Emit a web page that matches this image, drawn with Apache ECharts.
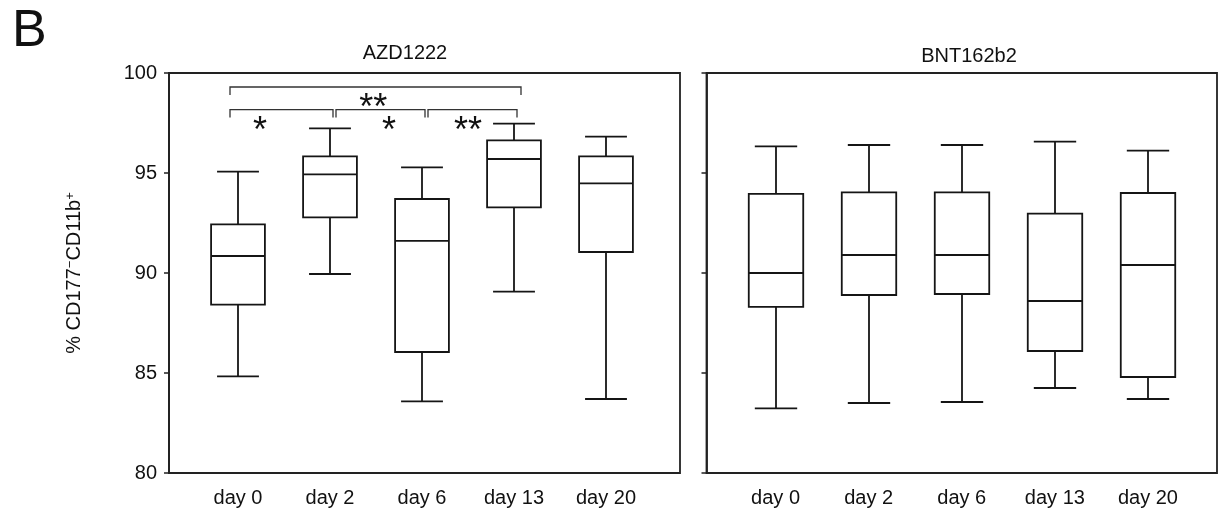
<!DOCTYPE html>
<html>
<head>
<meta charset="utf-8">
<script src="https://cdn.jsdelivr.net/npm/echarts@6/dist/echarts.min.js"></script>
<style>html,body{margin:0;padding:0;background:#fff}#c{width:1220px;height:518px}</style>
</head>
<body>
<div id="c"></div>
<script>
// ---- data ----
const categories = ['day 0', 'day 2', 'day 6', 'day 13', 'day 20'];
const yMin = 80, yMax = 100, yStep = 5;

// AZD1222 panel
const azdMin    = [84.83, 89.95, 83.58, 89.07, 83.70];
const azdQ1     = [88.42, 92.78, 86.05, 93.28, 91.05];
const azdMedian = [90.85, 94.93, 91.61, 95.70, 94.48];
const azdQ3     = [92.43, 95.83, 93.70, 96.63, 95.83];
const azdMax    = [95.07, 97.23, 95.28, 97.47, 96.82];

// BNT162b2 panel
const bntMin    = [83.23, 83.50, 83.55, 84.25, 83.70];
const bntQ1     = [88.31, 88.90, 88.95, 86.10, 84.80];
const bntMedian = [90.00, 90.90, 90.90, 88.60, 90.40];
const bntQ3     = [93.96, 94.03, 94.03, 92.97, 94.00];
const bntMax    = [96.33, 96.40, 96.40, 96.57, 96.12];

// significance brackets (AZD1222)
const sigFrom    = [0, 1, 2, 0];
const sigTo      = [1, 2, 3, 3];
const sigLevel   = [98.17, 98.17, 98.17, 99.30];
const sigText    = ['*', '*', '**', '**'];
const sigTextPos = [0.24, 1.64, 2.50, 1.47];

// ---- build ----
const INK = '#151515';
const LW = 1.8;

function boxData(mn, q1, md, q3, mx) {
  return categories.map((c, i) => [i, mn[i], q1[i], md[i], q3[i], mx[i]]);
}

function renderBox(params, api) {
  const x = api.value(0);
  const pMin = api.coord([x, api.value(1)]);
  const pQ1 = api.coord([x, api.value(2)]);
  const pMed = api.coord([x, api.value(3)]);
  const pQ3 = api.coord([x, api.value(4)]);
  const pMax = api.coord([x, api.value(5)]);
  const band = api.size([1, 0])[0];
  const bw = band * 0.585, cw = band * 0.455;
  const cx = Math.round(pMin[0]);
  const st = {stroke: INK, lineWidth: LW, fill: null};
  return {
    type: 'group',
    children: [
      {type: 'line', shape: {x1: cx, y1: pMax[1], x2: cx, y2: pQ3[1]}, style: st},
      {type: 'line', shape: {x1: cx, y1: pQ1[1], x2: cx, y2: pMin[1]}, style: st},
      {type: 'line', shape: {x1: cx - cw / 2, y1: pMax[1], x2: cx + cw / 2, y2: pMax[1]}, style: st},
      {type: 'line', shape: {x1: cx - cw / 2, y1: pMin[1], x2: cx + cw / 2, y2: pMin[1]}, style: st},
      {type: 'rect', shape: {x: cx - bw / 2, y: pQ3[1], width: bw, height: pQ1[1] - pQ3[1]}, style: {stroke: INK, lineWidth: LW, fill: '#fff'}},
      {type: 'line', shape: {x1: cx - bw / 2, y1: pMed[1], x2: cx + bw / 2, y2: pMed[1]}, style: st}
    ]
  };
}

function renderSig(params, api) {
  const k = params.dataIndex;
  const i = sigFrom[k], j = sigTo[k], lev = sigLevel[k], tp = sigTextPos[k];
  const top = k === 3;
  const a = api.coord([i, lev]);
  const b = api.coord([j, lev]);
  const o = api.coord([0, lev]);
  const band = api.size([1, 0])[0];
  const tx = o[0] + tp * band;
  const x1 = a[0] + (i === 0 ? -8 : 6);
  const x2 = b[0] + (top ? 7 : 3);
  const y = a[1];
  const st = {stroke: '#333', lineWidth: 1.3, fill: null};
  return {
    type: 'group',
    children: [
      {type: 'polyline', shape: {points: [[x1, y + 8], [x1, y], [x2, y], [x2, y + 8]]}, style: st},
      {type: 'text', x: tx, y: y + 22, style: {text: sigText[k], fontSize: 36, fontFamily: 'Liberation Sans', fill: '#111', align: 'center', verticalAlign: 'middle'}}
    ]
  };
}

const frameGrid = {show: true, borderColor: '#222', borderWidth: 1.8, backgroundColor: 'transparent', top: 73, height: 400};
const frameX = {type: 'value', show: false, min: 0, max: 1};
const catX = {
  type: 'category', data: categories,
  axisLine: {show: false}, axisTick: {show: false}, splitLine: {show: false},
  axisLabel: {fontSize: 20, color: '#111', fontFamily: 'Liberation Sans', margin: 15}
};
const frameY = {
  type: 'value', min: yMin, max: yMax, interval: yStep,
  axisLine: {show: true, lineStyle: {color: '#222', width: 1.8}},
  axisTick: {show: true, length: 5, lineStyle: {color: '#222', width: 1.5}},
  splitLine: {show: false}
};
const hiddenY = {type: 'value', min: yMin, max: yMax, show: false};

const option = {
  animation: false,
  backgroundColor: '#fff',
  grid: [
    Object.assign({left: 169, width: 511}, frameGrid),
    {left: 192, width: 460, top: 73, height: 400},
    Object.assign({left: 706.5, width: 510.5}, frameGrid),
    {left: 729, width: 465.5, top: 73, height: 400}
  ],
  xAxis: [
    Object.assign({gridIndex: 0}, frameX),
    Object.assign({gridIndex: 1}, catX),
    Object.assign({gridIndex: 2}, frameX),
    Object.assign({gridIndex: 3}, catX)
  ],
  yAxis: [
    Object.assign({
      gridIndex: 0,
      axisLabel: {fontSize: 20, color: '#111', fontFamily: 'Liberation Sans', margin: 12},
      name: '% CD177{sup|−}CD11b{sup|+}',
      nameLocation: 'middle', nameGap: 85,
      nameTextStyle: {
        fontSize: 20, color: '#111', fontFamily: 'Liberation Sans',
        rich: {sup: {fontSize: 13, fontFamily: 'Liberation Sans', color: '#111', verticalAlign: 'top', lineHeight: 13}}
      }
    }, frameY),
    Object.assign({gridIndex: 1}, hiddenY),
    Object.assign({gridIndex: 2, axisLabel: {show: false}}, frameY),
    Object.assign({gridIndex: 3}, hiddenY)
  ],
  graphic: [
    {type: 'text', x: 12, y: 32, style: {text: 'B', fontSize: 52, fontFamily: 'Liberation Sans', fill: '#111', align: 'left', verticalAlign: 'middle'}},
    {type: 'text', x: 405, y: 53, style: {text: 'AZD1222', fontSize: 20, fontFamily: 'Liberation Sans', fill: '#111', align: 'center', verticalAlign: 'middle'}},
    {type: 'text', x: 969, y: 56, style: {text: 'BNT162b2', fontSize: 20, fontFamily: 'Liberation Sans', fill: '#111', align: 'center', verticalAlign: 'middle'}}
  ],
  series: [
    {type: 'custom', name: 'AZD1222', xAxisIndex: 1, yAxisIndex: 1, renderItem: renderBox,
      encode: {x: 0, y: [1, 2, 3, 4, 5]}, data: boxData(azdMin, azdQ1, azdMedian, azdQ3, azdMax), z: 3},
    {type: 'custom', name: 'BNT162b2', xAxisIndex: 3, yAxisIndex: 3, renderItem: renderBox,
      encode: {x: 0, y: [1, 2, 3, 4, 5]}, data: boxData(bntMin, bntQ1, bntMedian, bntQ3, bntMax), z: 3},
    {type: 'custom', name: 'significance', xAxisIndex: 1, yAxisIndex: 1, renderItem: renderSig,
      encode: {x: [0, 1], y: 2},
      data: sigFrom.map((f, k) => [f, sigTo[k], sigLevel[k]]), z: 4}
  ]
};

const chart = echarts.init(document.getElementById('c'), null, {renderer: 'canvas'});
chart.setOption(option);
</script>
</body>
</html>
